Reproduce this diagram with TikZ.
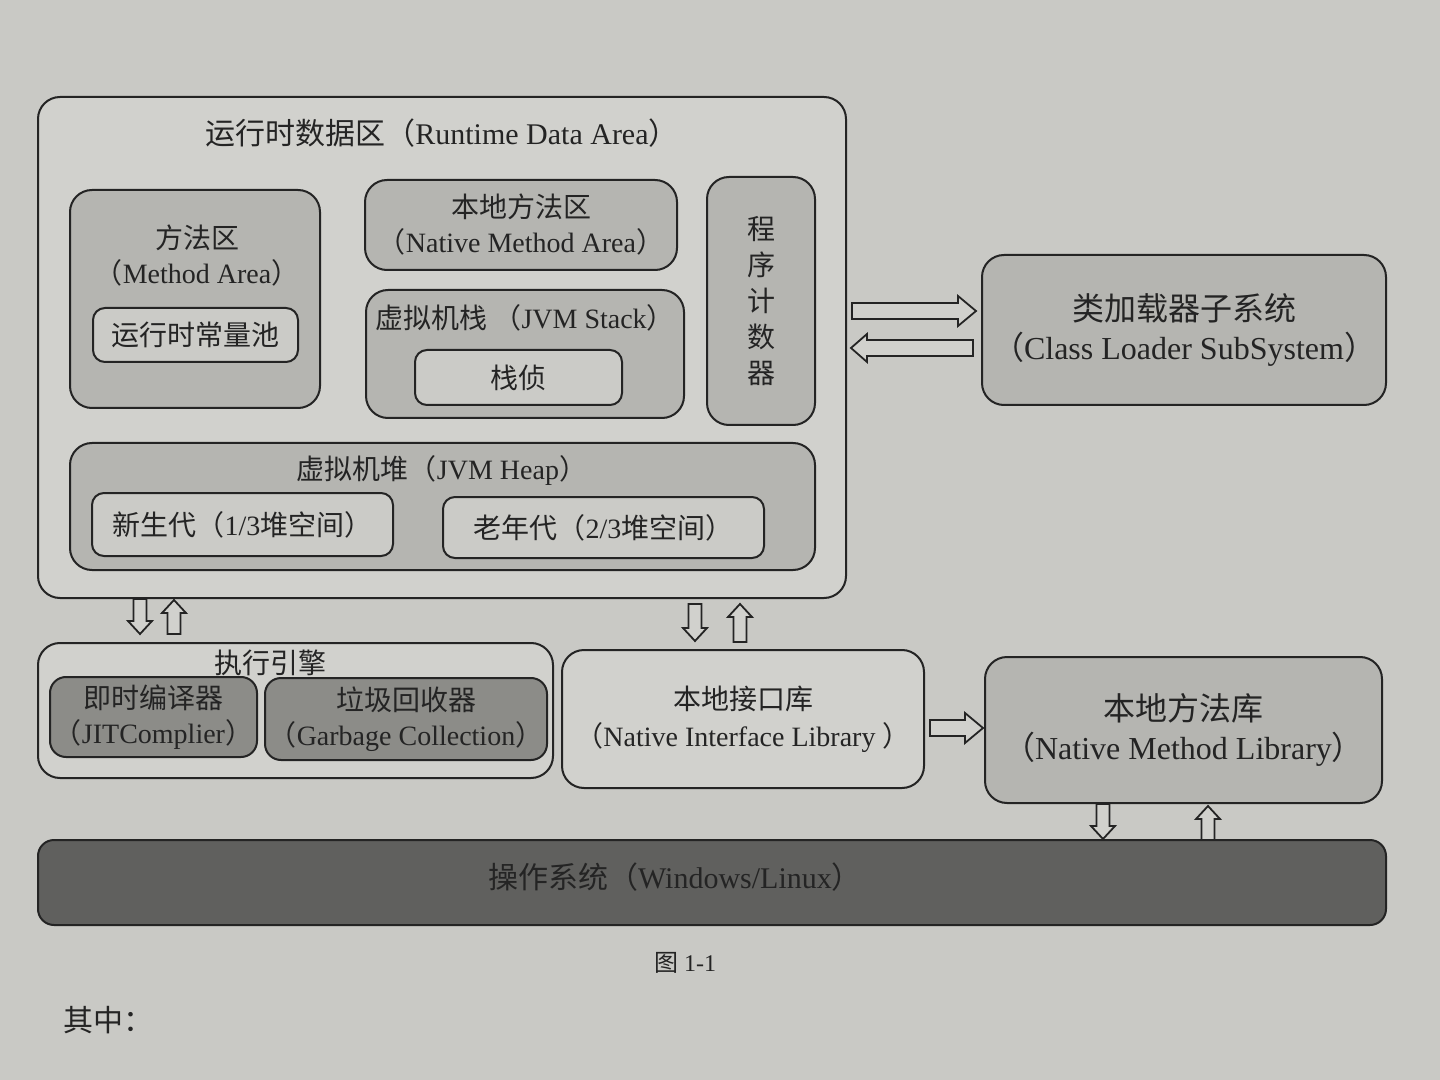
\documentclass[tikz,border=0pt]{standalone}
\usepackage{fontspec}
\setmainfont{Liberation Serif}
\newfontfamily\cjk{Noto Sans CJK SC}
\newcommand\zh[1]{{\cjk #1}}
\usetikzlibrary{calc}
\definecolor{page}{RGB}{201,201,197}
\definecolor{pane}{RGB}{209,209,205}
\definecolor{midbox}{RGB}{181,181,177}
\definecolor{litebox}{RGB}{203,203,199}
\definecolor{darkbox}{RGB}{140,140,136}
\definecolor{osbar}{RGB}{96,96,94}
\definecolor{ink}{RGB}{36,36,36}
\newcommand\arrR[3]{\draw[harrow] ({#1},{#3-8}) -- ({#2-18},{#3-8}) -- ({#2-18},{#3-15}) -- ({#2},{#3}) -- ({#2-18},{#3+15}) -- ({#2-18},{#3+8}) -- ({#1},{#3+8}) -- cycle;}
\newcommand\arrL[3]{\draw[harrow] ({#2},{#3-8}) -- ({#1+16},{#3-8}) -- ({#1+16},{#3-14}) -- ({#1},{#3}) -- ({#1+16},{#3+14}) -- ({#1+16},{#3+8}) -- ({#2},{#3+8}) -- cycle;}
\newcommand\arrD[3]{\draw[harrow] ({#1-6.5},{#2}) -- ({#1-6.5},{#3-13}) -- ({#1-12},{#3-13}) -- ({#1},{#3}) -- ({#1+12},{#3-13}) -- ({#1+6.5},{#3-13}) -- ({#1+6.5},{#2}) -- cycle;}
\newcommand\arrU[3]{\draw[harrow] ({#1-6.5},{#3}) -- ({#1-6.5},{#2+13}) -- ({#1-12},{#2+13}) -- ({#1},{#2}) -- ({#1+12},{#2+13}) -- ({#1+6.5},{#2+13}) -- ({#1+6.5},{#3}) -- cycle;}
\begin{document}
\begin{tikzpicture}[x=0.5pt,y=-0.5pt,
  bx/.style={draw=ink, line width=1pt, rounded corners=11pt, inner sep=0pt, align=center, text=ink},
  panebox/.style={bx, fill=pane},
  midb/.style={bx, fill=midbox},
  liteb/.style={bx, fill=litebox, rounded corners=6pt},
  darkb/.style={bx, fill=darkbox, rounded corners=8pt},
  lbl/.style={text=ink, inner sep=0pt, align=center},
  harrow/.style={draw=ink, line width=0.9pt, fill=pane, line join=miter},
  f14/.style={font=\fontsize{14}{17.5}\selectfont},
  f15/.style={font=\fontsize{15}{18}\selectfont},
  f16/.style={font=\fontsize{16}{19.5}\selectfont}]
\useasboundingbox (0,0) rectangle (1440,1080);
\fill[page] (0,0) rectangle (1440,1080);

% runtime data area
\node[panebox, minimum width=404pt, minimum height=250.5pt] (rda) at (442,347.5) {};
\node[lbl, f15] (rdat) at (442,133) {\zh{运行时数据区（}Runtime Data Area\zh{）}};

\node[midb, minimum width=125pt, minimum height=109pt] (ma) at (195,299) {};
\node[lbl, f14] (mat) at (197,256) {\zh{方法区}\\\zh{（}Method Area\zh{）}};
\node[liteb, f14, minimum width=102.5pt, minimum height=27pt] (pool) at (195.5,335) {\zh{运行时常量池}};

\node[midb, f14, minimum width=156pt, minimum height=45pt] (nma) at (521,225) {\zh{本地方法区}\\\zh{（}Native Method Area\zh{）}};

\node[midb, minimum width=159pt, minimum height=64pt] (stk) at (525,354) {};
\node[lbl, f14] (stkt) at (525,318) {\zh{虚拟机栈 （}JVM Stack\zh{）}};
\node[liteb, f14, minimum width=103.5pt, minimum height=27.5pt] (frm) at (518.5,377.5) {\zh{栈侦}};

\node[midb, minimum width=54pt, minimum height=124pt, font=\fontsize{14}{18}\selectfont] (pc) at (761,301) {\zh{程}\\\zh{序}\\\zh{计}\\\zh{数}\\\zh{器}};

\node[midb, minimum width=372.5pt, minimum height=63.5pt] (heap) at (442.5,506.5) {};
\node[lbl, f14] (heapt) at (442,470) {\zh{虚拟机堆（}JVM Heap\zh{）}};
\node[liteb, f14, minimum width=150.5pt, minimum height=31.5pt] (yng) at (242.5,524.5) {\zh{新生代（}1/3\zh{堆空间）}};
\node[liteb, f14, minimum width=160.5pt, minimum height=30.5pt] (old) at (603.5,527.5) {\zh{老年代（}2/3\zh{堆空间）}};

% class loader
\node[midb, f16, minimum width=202pt, minimum height=75pt] (cls) at (1184,330) {\zh{类加载器子系统}\\\zh{（}Class Loader SubSystem\zh{）}};

% execution engine
\node[panebox, minimum width=257.5pt, minimum height=67.5pt] (exe) at (295.5,710.5) {};
\node[lbl, f14] (exet) at (270,663) {\zh{执行引擎}};
\node[darkb, f14, minimum width=103.5pt, minimum height=40pt] (jit) at (153.5,717) {\zh{即时编译器}\\\zh{（}JITComplier\zh{）}};
\node[darkb, f14, minimum width=141pt, minimum height=41pt] (gc) at (406,719) {\zh{垃圾回收器}\\\zh{（}Garbage Collection\zh{）}};

% native interface / method library
\node[panebox, f14, minimum width=181pt, minimum height=69pt] (nil) at (743,719) {\zh{本地接口库}\\[1pt]\zh{（}Native Interface Library \zh{）}};
\node[midb, f16, minimum width=198.5pt, minimum height=73pt] (nml) at (1183.5,730) {\zh{本地方法库}\\\zh{（}Native Method Library\zh{）}};

% operating system
\node[bx, fill=osbar, rounded corners=8pt, minimum width=674pt, minimum height=42.5pt] (os) at (712,882.5) {};
\node[lbl, f15] (ost) at (675,877) {\zh{操作系统（}Windows/Linux\zh{）}};

% hollow arrows
\arrR{852}{976}{311}
\arrL{851}{973}{348}
\arrD{140}{599}{634}
\arrU{174}{600}{634}
\arrD{695}{604}{641}
\arrU{740}{604}{642}
\arrR{930}{983}{728}
\arrD{1103}{804}{839}
\arrU{1208}{806}{840}

% caption
\node[lbl, font=\fontsize{12}{14}\selectfont] (cap) at (685,963) {\zh{图} 1-1};
\node[lbl, font=\fontsize{15}{18}\selectfont, anchor=west] (qz) at (63,1020) {\zh{其中：}};
\end{tikzpicture}
\end{document}
